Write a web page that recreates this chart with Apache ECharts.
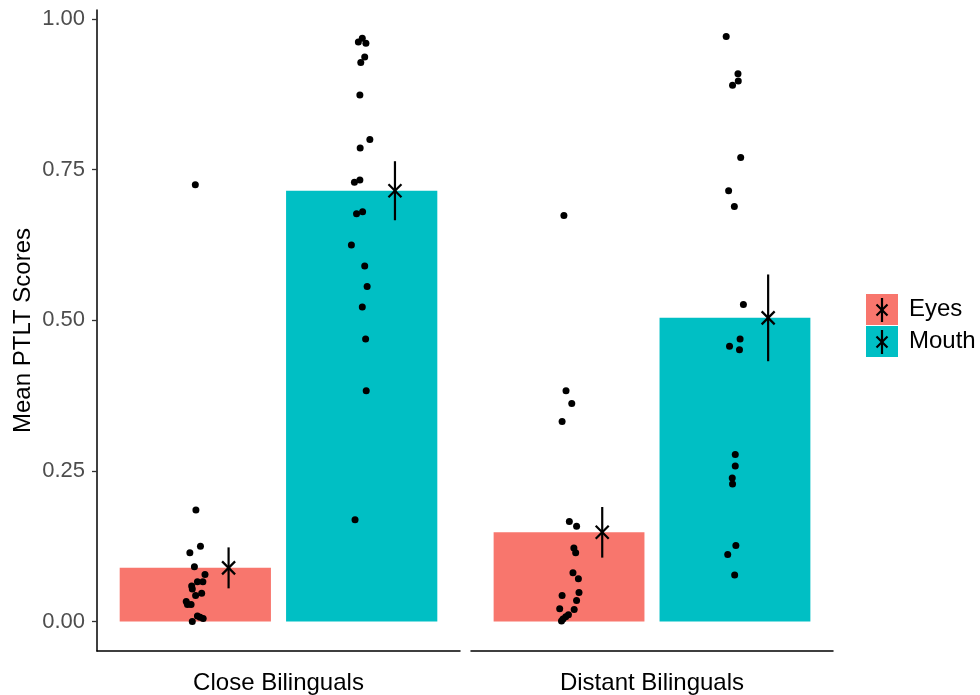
<!DOCTYPE html>
<html>
<head>
<meta charset="utf-8">
<script src="https://cdn.jsdelivr.net/npm/echarts@6/dist/echarts.min.js"></script>
<style>html,body{margin:0;padding:0;background:#fff;}#c{width:980px;height:695px;}</style>
</head>
<body>
<div id="c"></div>
<script>
// ---------------- data ----------------
const groups = ['Close Bilinguals', 'Distant Bilinguals'];
const conditions = ['Eyes', 'Mouth'];
const yTicks = [0, 0.25, 0.5, 0.75, 1];

const meanEyes = [0.089, 0.148];
const meanMouth = [0.715, 0.504];
const seEyes = [0.034, 0.042];
const seMouth = [0.049, 0.072];

const closeEyes = [0.725, 0.185, 0.125, 0.114, 0.091, 0.078, 0.066, 0.066, 0.059, 0.054, 0.047, 0.043, 0.033, 0.028, 0.028, 0.009, 0.007, 0.005, 0.000];
const closeEyesJitter = [0.000, 0.002, 0.017, -0.018, -0.003, 0.032, 0.007, 0.025, -0.012, -0.010, 0.021, 0.001, -0.030, -0.014, -0.026, 0.007, 0.016, 0.026, -0.010];

const closeMouth = [0.968, 0.962, 0.960, 0.937, 0.928, 0.874, 0.800, 0.786, 0.733, 0.729, 0.680, 0.677, 0.625, 0.590, 0.556, 0.522, 0.469, 0.383, 0.169];
const closeMouthJitter = [0.002, -0.011, 0.014, 0.010, -0.003, -0.006, 0.027, -0.005, -0.006, -0.024, 0.003, -0.017, -0.034, 0.010, 0.018, 0.002, 0.013, 0.015, -0.022];

const distantEyes = [0.674, 0.383, 0.362, 0.332, 0.166, 0.158, 0.122, 0.114, 0.081, 0.071, 0.048, 0.043, 0.035, 0.021, 0.020, 0.011, 0.008, 0.004, 0.001];
const distantEyesJitter = [-0.017, -0.010, 0.009, -0.023, 0.001, 0.025, 0.016, 0.022, 0.013, 0.031, 0.033, -0.023, 0.025, -0.031, 0.017, -0.002, -0.011, -0.020, -0.025];

const distantMouth = [0.971, 0.909, 0.897, 0.890, 0.770, 0.715, 0.689, 0.526, 0.469, 0.457, 0.451, 0.277, 0.258, 0.238, 0.228, 0.126, 0.111, 0.077];
const distantMouthJitter = [-0.029, 0.010, 0.011, -0.008, 0.019, -0.021, -0.002, 0.028, 0.017, -0.018, 0.015, 0.001, 0.001, -0.009, -0.008, 0.003, -0.024, -0.001];

// ---------------- layout / style constants ----------------
const COLORS = { Eyes: '#F8766D', Mouth: '#00BFC4' };
const DODGE = 0.55, BAR_W = 0.5, MEAN_SHIFT = 0.11;
const CENTER = { Eyes: 1 - DODGE / 2, Mouth: 1 + DODGE / 2 };
const FONT = '"Liberation Sans", Arial, Helvetica, sans-serif';
const Y_MIN = -0.049, Y_MAX = 1.015;

const pointSets = [
  { grid: 0, cond: 'Eyes', vals: closeEyes, jit: closeEyesJitter },
  { grid: 0, cond: 'Mouth', vals: closeMouth, jit: closeMouthJitter },
  { grid: 1, cond: 'Eyes', vals: distantEyes, jit: distantEyesJitter },
  { grid: 1, cond: 'Mouth', vals: distantMouth, jit: distantMouthJitter }
];

function renderBar(params, api) {
  const x = api.value(0), y = api.value(1);
  const p0 = api.coord([x - BAR_W / 2, y]);
  const p1 = api.coord([x + BAR_W / 2, 0]);
  return { type: 'rect', shape: { x: p0[0], y: p0[1], width: p1[0] - p0[0], height: p1[1] - p0[1] },
           style: { fill: api.visual('color') } };
}
function renderErr(params, api) {
  const x = api.value(0), m = api.value(1), se = api.value(2);
  const t = api.coord([x, m + se]), b = api.coord([x, m - se]), c = api.coord([x, m]);
  const h = 6.5, st = { stroke: '#000', lineWidth: 2.2 };
  return { type: 'group', children: [
    { type: 'line', shape: { x1: t[0], y1: t[1], x2: b[0], y2: b[1] }, style: st },
    { type: 'line', shape: { x1: c[0] - h, y1: c[1] - h, x2: c[0] + h, y2: c[1] + h }, style: st },
    { type: 'line', shape: { x1: c[0] - h, y1: c[1] + h, x2: c[0] + h, y2: c[1] - h }, style: st }
  ]};
}

const series = [];
groups.forEach((g, gi) => {
  series.push({ name: 'Eyes', type: 'custom', xAxisIndex: gi, yAxisIndex: gi, renderItem: renderBar,
    itemStyle: { color: COLORS.Eyes }, data: [[CENTER.Eyes, meanEyes[gi]]], z: 1, silent: true });
  series.push({ name: 'Mouth', type: 'custom', xAxisIndex: gi, yAxisIndex: gi, renderItem: renderBar,
    itemStyle: { color: COLORS.Mouth }, data: [[CENTER.Mouth, meanMouth[gi]]], z: 1, silent: true });
});
pointSets.forEach(ps => {
  series.push({ name: 'pts', type: 'scatter', xAxisIndex: ps.grid, yAxisIndex: ps.grid,
    symbol: 'circle', symbolSize: 7, itemStyle: { color: '#000', opacity: 1 }, z: 3, silent: true,
    data: ps.vals.map((v, i) => [CENTER[ps.cond] + ps.jit[i], v]) });
});
groups.forEach((g, gi) => {
  series.push({ name: 'err', type: 'custom', xAxisIndex: gi, yAxisIndex: gi, renderItem: renderErr, z: 4, silent: true,
    itemStyle: { color: '#000' },
    data: [[CENTER.Eyes + MEAN_SHIFT, meanEyes[gi], seEyes[gi]], [CENTER.Mouth + MEAN_SHIFT, meanMouth[gi], seMouth[gi]]] });
});

const axisLine = { show: true, onZero: false, lineStyle: { color: '#000', width: 1.5 } };
const grids = [
  { left: 97, top: 10, width: 363, height: 641.7 },
  { left: 471, top: 10, width: 362, height: 641.7 }
];
const xAxes = [];
groups.forEach((g, gi) => {
  xAxes.push({ type: 'value', gridIndex: gi, min: 0.4, max: 1.6, show: false });
});
groups.forEach((g, gi) => {
  xAxes.push({ type: 'category', gridIndex: gi, data: [g], position: 'bottom', axisLine: axisLine,
    axisTick: { show: false }, splitLine: { show: false },
    axisLabel: { margin: 20, fontSize: 24, color: '#000', fontFamily: FONT } });
});
const yAxes = [
  { type: 'value', gridIndex: 0, min: Y_MIN, max: Y_MAX, axisLine: axisLine,
    axisTick: { show: true, length: 5, customValues: yTicks, lineStyle: { color: '#333', width: 1.3 } },
    axisLabel: { customValues: yTicks, margin: 12, fontSize: 22, color: '#4D4D4D', fontFamily: FONT,
      formatter: v => Number(v).toFixed(2) },
    splitLine: { show: false },
    name: 'Mean PTLT Scores', nameLocation: 'middle', nameGap: 62,
    nameTextStyle: { fontSize: 24, color: '#000', fontFamily: FONT } },
  { type: 'value', gridIndex: 1, min: Y_MIN, max: Y_MAX, show: false, splitLine: { show: false } }
];

const legendKeys = [{ cx: 882, cy: 310 }, { cx: 882, cy: 342 }];
const graphics = [];
legendKeys.forEach(k => {
  const st = { stroke: '#000', lineWidth: 2.2 };
  graphics.push({ type: 'line', shape: { x1: k.cx, y1: k.cy - 12, x2: k.cx, y2: k.cy + 12 }, style: st, z: 100 });
  graphics.push({ type: 'line', shape: { x1: k.cx - 5.5, y1: k.cy - 5.5, x2: k.cx + 5.5, y2: k.cy + 5.5 }, style: st, z: 100 });
  graphics.push({ type: 'line', shape: { x1: k.cx - 5.5, y1: k.cy + 5.5, x2: k.cx + 5.5, y2: k.cy - 5.5 }, style: st, z: 100 });
});

const chart = echarts.init(document.getElementById('c'), null, { renderer: 'canvas' });
chart.setOption({
  backgroundColor: '#fff',
  animation: false,
  grid: grids,
  xAxis: xAxes,
  yAxis: yAxes,
  legend: { data: conditions, orient: 'vertical', left: 866, top: 294, padding: 0,
    icon: 'rect', itemWidth: 32, itemHeight: 31, itemGap: 1, selectedMode: false,
    textStyle: { fontSize: 24, color: '#000', fontFamily: FONT, padding: [0, 0, 0, 6] } },
  graphic: graphics,
  series: series
});
</script>
</body>
</html>
